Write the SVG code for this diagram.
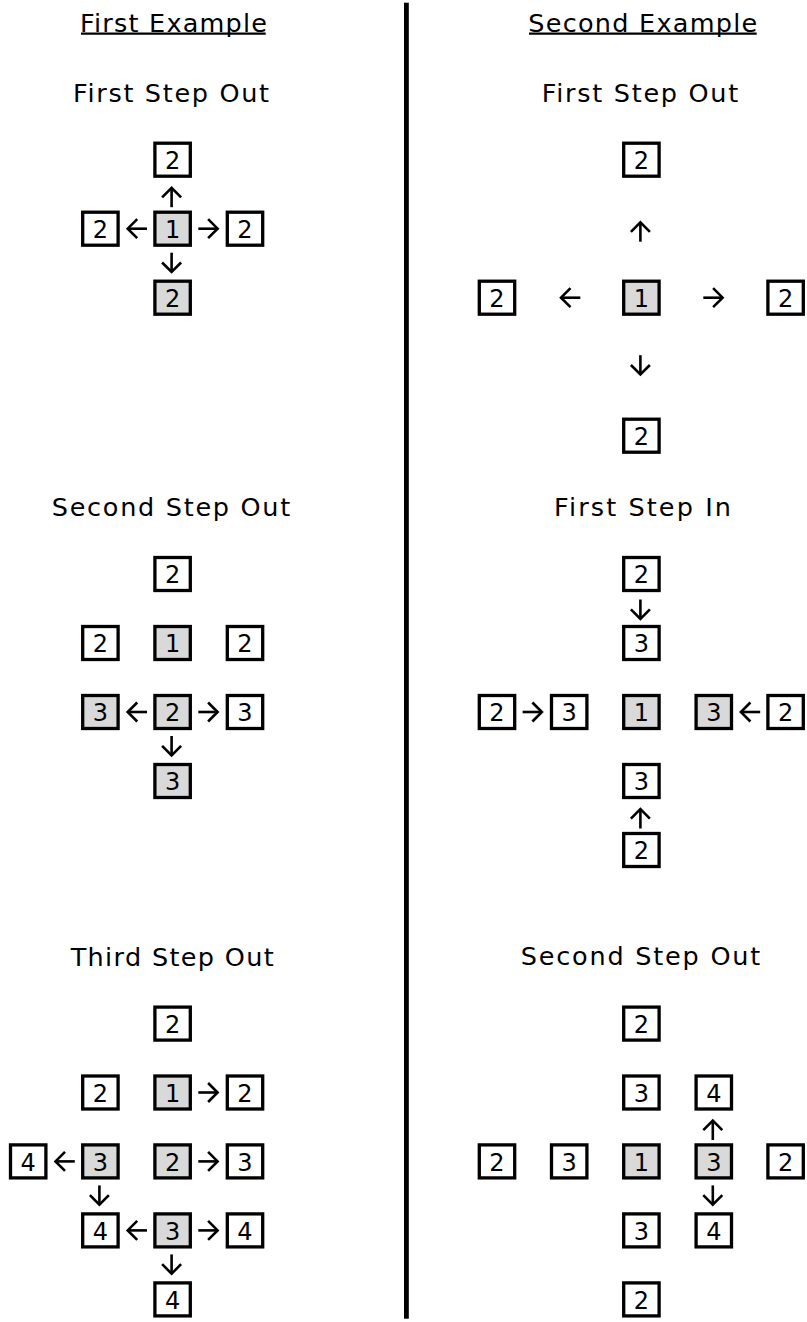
<svg xmlns="http://www.w3.org/2000/svg" width="807" height="1322" viewBox="0 0 807 1322">
<style>
.b{fill:#fff;stroke:#000;stroke-width:3.3}
.g{fill:#d9d9d9;stroke:#000;stroke-width:3.3}
.n{font-family:"DejaVu Sans",sans-serif;font-size:24px;text-anchor:middle;fill:#000}
.t{font-family:"DejaVu Sans",sans-serif;font-size:25.5px;text-anchor:middle;fill:#000}
.a{fill:none;stroke:#000;stroke-width:2.6;marker-end:url(#ah)}
</style>
<defs>
<marker id="ah" markerUnits="userSpaceOnUse" markerWidth="24" markerHeight="24" viewBox="-12 -12 24 24" refX="0" refY="0" orient="auto" overflow="visible">
<path d="M-9.5,-9.5 L0,0 L-9.5,9.5" fill="none" stroke="#000" stroke-width="2.6"/>
</marker>
</defs>
<rect width="807" height="1322" fill="#fff"/>
<rect id="divider" x="404" y="2.7" width="4.8" height="1316" fill="#000"/>

<g id="titles">
<text class="t" x="173.5" y="31.7" textLength="187" lengthAdjust="spacing">First Example</text>
<line x1="81" y1="33.6" x2="265.7" y2="33.6" stroke="#000" stroke-width="2.2"/>
<text class="t" x="642.8" y="31.7" textLength="229" lengthAdjust="spacing">Second Example</text>
<line x1="529" y1="33.6" x2="756.7" y2="33.6" stroke="#000" stroke-width="2.2"/>
<text class="t" x="171" y="101.7" textLength="196" lengthAdjust="spacing">First Step Out</text>
<text class="t" x="640" y="101.7" textLength="196.5" lengthAdjust="spacing">First Step Out</text>
<text class="t" x="171" y="515.7" textLength="238.5" lengthAdjust="spacing">Second Step Out</text>
<text class="t" x="642.5" y="515.7" textLength="177" lengthAdjust="spacing">First Step In</text>
<text class="t" x="172.2" y="965.7" textLength="203" lengthAdjust="spacing">Third Step Out</text>
<text class="t" x="640.5" y="965.3" textLength="239.5" lengthAdjust="spacing">Second Step Out</text>
</g>

<!-- Section 1, first example -->
<g id="s1a-n1"><rect class="b" x="154.9" y="143.2" width="35.4" height="33"/><text class="n" x="172.6" y="168.8">2</text></g>
<g id="s1a-n2"><rect class="b" x="82.7" y="212.2" width="35.4" height="33"/><text class="n" x="100.4" y="237.8">2</text></g>
<g id="s1a-n3"><rect class="g" x="154.9" y="212.2" width="35.4" height="33"/><text class="n" x="172.6" y="237.8">1</text></g>
<g id="s1a-n4"><rect class="b" x="227.3" y="212.2" width="35.4" height="33"/><text class="n" x="245" y="237.8">2</text></g>
<g id="s1a-n5"><rect class="g" x="154.9" y="281.2" width="35.4" height="33"/><text class="n" x="172.6" y="306.8">2</text></g>

<!-- Section 1, second example -->
<g id="s1b-n1"><rect class="b" x="623.7" y="143.2" width="35.4" height="33"/><text class="n" x="641.4" y="168.8">2</text></g>
<g id="s1b-n2"><rect class="b" x="479.3" y="281.2" width="35.4" height="33"/><text class="n" x="497" y="306.8">2</text></g>
<g id="s1b-n3"><rect class="g" x="623.7" y="281.2" width="35.4" height="33"/><text class="n" x="641.4" y="306.8">1</text></g>
<g id="s1b-n4"><rect class="b" x="767.9" y="281.2" width="35.4" height="33"/><text class="n" x="785.6" y="306.8">2</text></g>
<g id="s1b-n5"><rect class="b" x="623.7" y="419.2" width="35.4" height="33"/><text class="n" x="641.4" y="444.8">2</text></g>

<!-- Section 2, first example -->
<g id="s2a-n1"><rect class="b" x="154.9" y="557.5" width="35.4" height="33"/><text class="n" x="172.6" y="583.1">2</text></g>
<g id="s2a-n2"><rect class="b" x="82.7" y="626.5" width="35.4" height="33"/><text class="n" x="100.4" y="652.1">2</text></g>
<g id="s2a-n3"><rect class="g" x="154.9" y="626.5" width="35.4" height="33"/><text class="n" x="172.6" y="652.1">1</text></g>
<g id="s2a-n4"><rect class="b" x="227.3" y="626.5" width="35.4" height="33"/><text class="n" x="245" y="652.1">2</text></g>
<g id="s2a-n5"><rect class="g" x="82.7" y="695.5" width="35.4" height="33"/><text class="n" x="100.4" y="721.1">3</text></g>
<g id="s2a-n6"><rect class="g" x="154.9" y="695.5" width="35.4" height="33"/><text class="n" x="172.6" y="721.1">2</text></g>
<g id="s2a-n7"><rect class="b" x="227.3" y="695.5" width="35.4" height="33"/><text class="n" x="245" y="721.1">3</text></g>
<g id="s2a-n8"><rect class="g" x="154.9" y="764.5" width="35.4" height="33"/><text class="n" x="172.6" y="790.1">3</text></g>

<!-- Section 2, second example -->
<g id="s2b-n1"><rect class="b" x="623.7" y="557.5" width="35.4" height="33"/><text class="n" x="641.4" y="583.1">2</text></g>
<g id="s2b-n2"><rect class="b" x="623.7" y="626.5" width="35.4" height="33"/><text class="n" x="641.4" y="652.1">3</text></g>
<g id="s2b-n3"><rect class="b" x="479.3" y="695.5" width="35.4" height="33"/><text class="n" x="497" y="721.1">2</text></g>
<g id="s2b-n4"><rect class="b" x="551.5" y="695.5" width="35.4" height="33"/><text class="n" x="569.2" y="721.1">3</text></g>
<g id="s2b-n5"><rect class="g" x="623.7" y="695.5" width="35.4" height="33"/><text class="n" x="641.4" y="721.1">1</text></g>
<g id="s2b-n6"><rect class="g" x="696.1" y="695.5" width="35.4" height="33"/><text class="n" x="713.8" y="721.1">3</text></g>
<g id="s2b-n7"><rect class="b" x="767.9" y="695.5" width="35.4" height="33"/><text class="n" x="785.6" y="721.1">2</text></g>
<g id="s2b-n8"><rect class="b" x="623.7" y="764.5" width="35.4" height="33"/><text class="n" x="641.4" y="790.1">3</text></g>
<g id="s2b-n9"><rect class="b" x="623.7" y="833.5" width="35.4" height="33"/><text class="n" x="641.4" y="859.1">2</text></g>

<!-- Section 3, first example -->
<g id="s3a-n1"><rect class="b" x="154.9" y="1007.1" width="35.4" height="33"/><text class="n" x="172.6" y="1032.7">2</text></g>
<g id="s3a-n2"><rect class="b" x="82.7" y="1076" width="35.4" height="33"/><text class="n" x="100.4" y="1101.6">2</text></g>
<g id="s3a-n3"><rect class="g" x="154.9" y="1076" width="35.4" height="33"/><text class="n" x="172.6" y="1101.6">1</text></g>
<g id="s3a-n4"><rect class="b" x="227.3" y="1076" width="35.4" height="33"/><text class="n" x="245" y="1101.6">2</text></g>
<g id="s3a-n5"><rect class="b" x="10.5" y="1144.9" width="35.4" height="33"/><text class="n" x="28.2" y="1170.5">4</text></g>
<g id="s3a-n6"><rect class="g" x="82.7" y="1144.9" width="35.4" height="33"/><text class="n" x="100.4" y="1170.5">3</text></g>
<g id="s3a-n7"><rect class="g" x="154.9" y="1144.9" width="35.4" height="33"/><text class="n" x="172.6" y="1170.5">2</text></g>
<g id="s3a-n8"><rect class="b" x="227.3" y="1144.9" width="35.4" height="33"/><text class="n" x="245" y="1170.5">3</text></g>
<g id="s3a-n9"><rect class="b" x="82.7" y="1213.9" width="35.4" height="33"/><text class="n" x="100.4" y="1239.5">4</text></g>
<g id="s3a-n10"><rect class="g" x="154.9" y="1213.9" width="35.4" height="33"/><text class="n" x="172.6" y="1239.5">3</text></g>
<g id="s3a-n11"><rect class="b" x="227.3" y="1213.9" width="35.4" height="33"/><text class="n" x="245" y="1239.5">4</text></g>
<g id="s3a-n12"><rect class="b" x="154.9" y="1282.9" width="35.4" height="33"/><text class="n" x="172.6" y="1308.5">4</text></g>

<!-- Section 3, second example -->
<g id="s3b-n1"><rect class="b" x="623.7" y="1007.1" width="35.4" height="33"/><text class="n" x="641.4" y="1032.7">2</text></g>
<g id="s3b-n2"><rect class="b" x="623.7" y="1076" width="35.4" height="33"/><text class="n" x="641.4" y="1101.6">3</text></g>
<g id="s3b-n3"><rect class="b" x="696.1" y="1076" width="35.4" height="33"/><text class="n" x="713.8" y="1101.6">4</text></g>
<g id="s3b-n4"><rect class="b" x="479.3" y="1144.9" width="35.4" height="33"/><text class="n" x="497" y="1170.5">2</text></g>
<g id="s3b-n5"><rect class="b" x="551.5" y="1144.9" width="35.4" height="33"/><text class="n" x="569.2" y="1170.5">3</text></g>
<g id="s3b-n6"><rect class="g" x="623.7" y="1144.9" width="35.4" height="33"/><text class="n" x="641.4" y="1170.5">1</text></g>
<g id="s3b-n7"><rect class="g" x="696.1" y="1144.9" width="35.4" height="33"/><text class="n" x="713.8" y="1170.5">3</text></g>
<g id="s3b-n8"><rect class="b" x="767.9" y="1144.9" width="35.4" height="33"/><text class="n" x="785.6" y="1170.5">2</text></g>
<g id="s3b-n9"><rect class="b" x="623.7" y="1213.9" width="35.4" height="33"/><text class="n" x="641.4" y="1239.5">3</text></g>
<g id="s3b-n10"><rect class="b" x="696.1" y="1213.9" width="35.4" height="33"/><text class="n" x="713.8" y="1239.5">4</text></g>
<g id="s3b-n11"><rect class="b" x="623.7" y="1282.9" width="35.4" height="33"/><text class="n" x="641.4" y="1308.5">2</text></g>

<g id="connectors">
<path class="a" d="M171.6,207.2 L171.6,187.9"/>
<path class="a" d="M147,228.7 L127.7,228.7"/>
<path class="a" d="M198.3,228.7 L217.6,228.7"/>
<path class="a" d="M171.6,252.7 L171.6,272"/>

<path class="a" d="M640.4,241.7 L640.4,222.4"/>
<path class="a" d="M580.3,297.7 L561,297.7"/>
<path class="a" d="M703.3,297.7 L722.6,297.7"/>
<path class="a" d="M640.4,355.2 L640.4,374.5"/>

<path class="a" d="M147,712 L127.7,712"/>
<path class="a" d="M198.3,712 L217.6,712"/>
<path class="a" d="M171.6,736 L171.6,755.3"/>

<path class="a" d="M640.4,599.5 L640.4,618.8"/>
<path class="a" d="M522.6,712 L541.9,712"/>
<path class="a" d="M760.2,712 L740.9,712"/>
<path class="a" d="M640.4,828.5 L640.4,809.2"/>

<path class="a" d="M198.3,1092.5 L217.6,1092.5"/>
<path class="a" d="M74.8,1161.4 L55.5,1161.4"/>
<path class="a" d="M198.3,1161.4 L217.6,1161.4"/>
<path class="a" d="M99.4,1185.4 L99.4,1204.7"/>
<path class="a" d="M147,1230.4 L127.7,1230.4"/>
<path class="a" d="M198.3,1230.4 L217.6,1230.4"/>
<path class="a" d="M171.6,1254.4 L171.6,1273.7"/>

<path class="a" d="M712.8,1140 L712.8,1120.7"/>
<path class="a" d="M712.8,1185.4 L712.8,1204.7"/>
</g>
</svg>
